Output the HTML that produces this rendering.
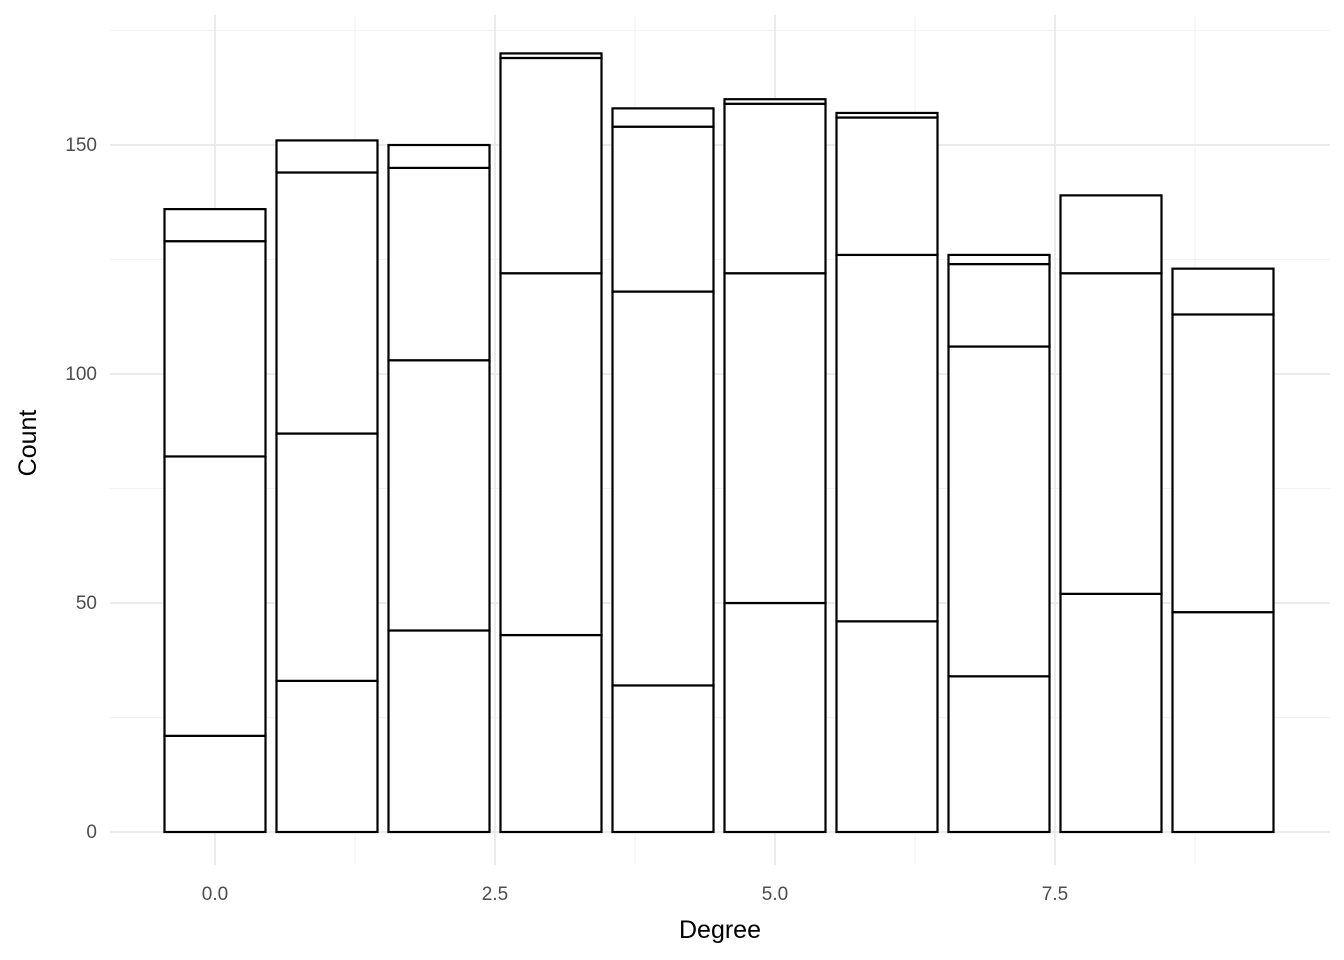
<!DOCTYPE html>
<html><head><meta charset="utf-8"><style>
html,body{margin:0;padding:0;background:#fff;}
svg{display:block;font-family:"Liberation Sans","DejaVu Sans",sans-serif;}
</style></head><body>
<svg id="chart" width="1344" height="960">
<g id="grid"></g>
<g id="bars"></g>
<g id="ticks"></g>
<text x="720" y="938" text-anchor="middle" font-size="25" fill="#000">Degree</text>
<text transform="translate(36,443) rotate(-90)" text-anchor="middle" font-size="25" fill="#000">Count</text>
</svg>
<script>
const categories = [0,1,2,3,4,5,6,7,8,9];
const series1 = [21,33,44,43,32,50,46,34,52,48];
const series2 = [61,54,59,79,86,72,80,72,70,65];
const series3 = [47,57,42,47,36,37,30,18,17,10];
const series4 = [7,7,5,1,4,1,1,2,0,0];
const yTicks = [0,50,100,150];
const yTickLabels = ["0","50","100","150"];
const xTicks = [0,2.5,5,7.5];
const xTickLabels = ["0.0","2.5","5.0","7.5"];

const NS="http://www.w3.org/2000/svg";
function X(v){return 215+v*112;}
function Y(v){return 832-v*4.58;}
function el(tag,attrs,parent){const e=document.createElementNS(NS,tag);for(const k in attrs)e.setAttribute(k,attrs[k]);parent.appendChild(e);return e;}
const gridG=document.getElementById('grid'),barsG=document.getElementById('bars'),ticksG=document.getElementById('ticks');
const panelLeft=110,panelRight=1330,panelTop=15,panelBottom=865;
[25,75,125,175].forEach(v=>{const l=el('line',{x1:panelLeft,x2:panelRight,y1:Y(v),y2:Y(v),stroke:'#f2f2f2','stroke-width':1},gridG);

});
[1.25,3.75,6.25,8.75].forEach(v=>{const l=el('line',{x1:X(v),x2:X(v),y1:panelTop,y2:panelBottom,stroke:'#f2f2f2','stroke-width':1},gridG);

});
yTicks.forEach((v,i)=>{const l=el('line',{x1:panelLeft,x2:panelRight,y1:Y(v),y2:Y(v),stroke:'#ebebeb','stroke-width':2},gridG);


const t=el('text',{x:97,y:Y(v)+6,'text-anchor':'end','font-size':19,fill:'#4d4d4d'},ticksG);t.textContent=yTickLabels[i];

});
xTicks.forEach((v,i)=>{const l=el('line',{x1:X(v),x2:X(v),y1:panelTop,y2:panelBottom,stroke:'#ebebeb','stroke-width':2},gridG);


const t=el('text',{x:X(v),y:900,'text-anchor':'middle','font-size':19,fill:'#4d4d4d'},ticksG);t.textContent=xTickLabels[i];

});
const allSeries=[series1,series2,series3,series4];
categories.forEach((c,i)=>{let base=0;
allSeries.forEach((s,j)=>{const v=s[i];const y0=Y(base),y1=Y(base+v);
const r=el('rect',{x:X(c)-50.5,y:y1,width:101,height:y0-y1,fill:'#fff',stroke:'#000','stroke-width':2.2},barsG);


base+=v;});});
</script>
</body></html>
